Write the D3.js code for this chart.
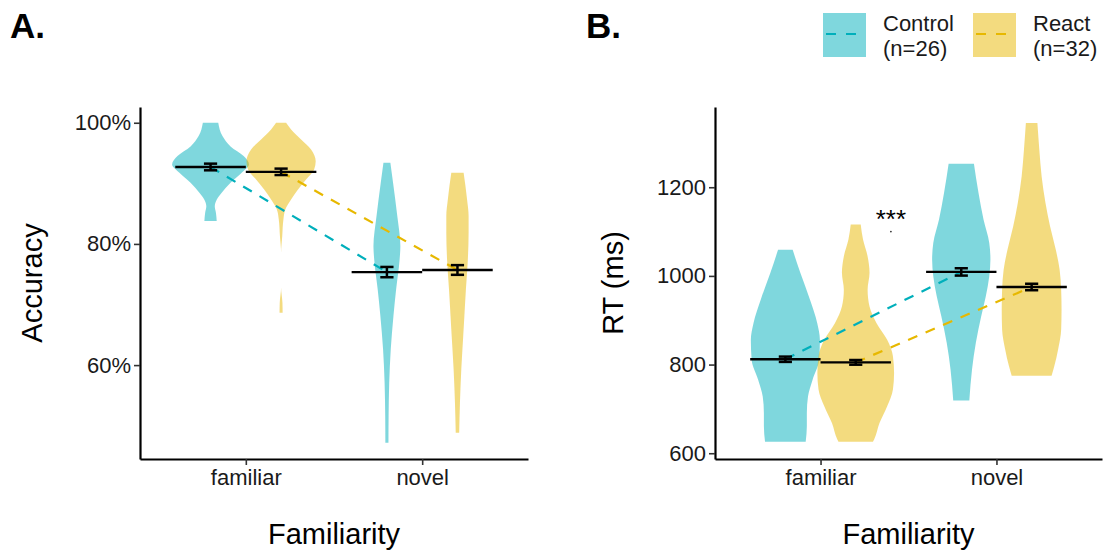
<!DOCTYPE html>
<html>
<head>
<meta charset="utf-8">
<script src="https://cdn.jsdelivr.net/npm/d3@7"></script>
<style>
body { margin: 0; background: #fff; }
text { font-family: "Liberation Sans", Arial, sans-serif; }
</style>
</head>
<body>
<svg id="chart" width="1107" height="553"></svg>
<script>
// groups and categories
var groups = ['Control', 'React']
var groupN = ['(n=26)', '(n=32)']
var familiarity = ['familiar', 'novel']
var lineColors = ['#00AFBB', '#E7B800']

// accuracy (%): means and standard errors, [familiar, novel]
var accMeanControl = [92.7, 75.35]
var accMeanReact = [91.9, 75.7]
var accSeControl = [0.55, 0.85]
var accSeReact = [0.53, 0.8]

// RT (ms): means and standard errors, [familiar, novel]
var rtMeanControl = [812, 1009]
var rtMeanReact = [805, 975]
var rtSeControl = [6, 8.3]
var rtSeReact = [5.3, 7.3]

// violin profiles: [value, relative density]
var accViolinControlFamiliar = [[100, 0.2], [97.8, 0.31], [96.1, 0.52], [94.5, 0.86], [93.1, 1.0], [91.75, 0.81],
    [90.1, 0.52], [88.45, 0.29], [87.3, 0.16], [86.2, 0.11], [85.15, 0.14], [83.8, 0.16]]
var accViolinReactFamiliar = [[100, 0.13], [98.9, 0.26], [97.25, 0.52], [95.6, 0.78], [93.65, 0.9], [92.3, 0.86],
    [90.65, 0.65], [89.0, 0.44], [87.35, 0.26], [85.7, 0.11], [84.05, 0.06], [81.3, 0.03], [78.5, 0.0],
    [72.8, 0.0], [70.3, 0.035], [68.65, 0.04]]
var accViolinControlNovel = [[93.4, 0.09], [90.1, 0.16], [84.6, 0.27], [79.6, 0.35], [77.4, 0.33], [72.5, 0.24],
    [68.1, 0.17], [62.6, 0.1], [57.1, 0.06], [51.6, 0.044], [47.2, 0.04]]
var accViolinReactNovel = [[91.75, 0.16], [87.35, 0.25], [84.6, 0.29], [81.85, 0.29], [77.4, 0.27], [72.5, 0.22],
    [68.1, 0.18], [64.8, 0.15], [59.3, 0.1], [53.8, 0.065], [48.85, 0.045]]

var rtViolinControlFamiliar = [[1059, 0.19], [1007, 0.39], [947, 0.64], [894, 0.83], [856, 0.9], [811, 0.88],
    [766, 0.71], [728, 0.59], [691, 0.56], [661, 0.56], [626, 0.53]]
var rtViolinReactFamiliar = [[1116, 0.13], [1082, 0.19], [1044, 0.31], [1007, 0.36], [969, 0.31], [931, 0.36],
    [894, 0.54], [856, 0.82], [819, 0.97], [781, 1.0], [744, 0.97], [706, 0.82], [668, 0.62], [631, 0.48], [626, 0.45]]
var rtViolinControlNovel = [[1253, 0.33], [1187, 0.45], [1127, 0.58], [1074, 0.73], [1037, 0.76], [999, 0.73],
    [954, 0.64], [909, 0.52], [849, 0.38], [789, 0.28], [719, 0.21]]
var rtViolinReactNovel = [[1345, 0.15], [1285, 0.2], [1225, 0.26], [1165, 0.36], [1112, 0.48], [1059, 0.63],
    [1014, 0.73], [969, 0.77], [924, 0.78], [879, 0.77], [834, 0.69], [796, 0.59], [775, 0.52]]

// axis ticks
var accTicks = [60, 80, 100]
var rtTicks = [600, 800, 1000, 1200]

// significance annotation on RT panel
var rtAnnot = {x: 1.4, y: 1100, label: '***'}

var svg = d3.select('#chart')

function draw_panel(cfg) {
    var g = svg.append('g')
    var x = d3.scaleLinear().domain([0.4, 2.6]).range([cfg.left, cfg.right])
    var y = d3.scaleLinear().domain(cfg.ydomain).range([cfg.bottom, cfg.top])
    var unit = x(1) - x(0)
    var w = d3.scaleLinear().domain([0, 1]).range([0, 0.218 * unit])
    var dodge = [-0.2, 0.2]

    // violins
    var area = d3.area()
        .curve(d3.curveMonotoneY)
        .y(function(d) { return y(d[0]) })
    for (var gi = 0; gi < groups.length; gi++) {
        for (var ci = 0; ci < familiarity.length; ci++) {
            var cx = x(ci + 1 + dodge[gi])
            area.x0(function(d) { return cx - w(d[1]) })
                .x1(function(d) { return cx + w(d[1]) })
            g.append('path')
                .attr('d', area(cfg.violins[gi][ci]))
                .attr('fill', lineColors[gi])
                .attr('fill-opacity', 0.5)
        }
    }

    // dashed lines between means
    for (var gi = 0; gi < groups.length; gi++) {
        var m = cfg.means[gi]
        g.append('line')
            .attr('x1', x(1 + dodge[gi])).attr('y1', y(m[0]))
            .attr('x2', x(2 + dodge[gi])).attr('y2', y(m[1]))
            .attr('stroke', lineColors[gi])
            .attr('stroke-width', 2.2)
            .attr('stroke-dasharray', '10,9')
    }

    // mean bars and error bars
    for (var gi = 0; gi < groups.length; gi++) {
        for (var ci = 0; ci < familiarity.length; ci++) {
            var p = ci + 1 + dodge[gi]
            var m = cfg.means[gi][ci], se = cfg.ses[gi][ci]
            g.append('line')
                .attr('x1', x(p - 0.2)).attr('x2', x(p + 0.2))
                .attr('y1', y(m)).attr('y2', y(m))
                .attr('stroke', '#000').attr('stroke-width', 2.4)
            var eb = g.append('g').attr('stroke', '#000').attr('stroke-width', 2.5)
            eb.append('line')
                .attr('x1', x(p)).attr('x2', x(p))
                .attr('y1', y(m - se)).attr('y2', y(m + se))
            eb.append('line')
                .attr('x1', x(p - 0.0375)).attr('x2', x(p + 0.0375))
                .attr('y1', y(m - se)).attr('y2', y(m - se))
            eb.append('line')
                .attr('x1', x(p - 0.0375)).attr('x2', x(p + 0.0375))
                .attr('y1', y(m + se)).attr('y2', y(m + se))
        }
    }

    // axes
    var yAxis = g.append('g')
        .attr('transform', 'translate(' + cfg.left + ',0)')
        .call(d3.axisLeft(y).tickValues(cfg.ticks).tickFormat(cfg.fmt).tickSize(6).tickSizeOuter(0).tickPadding(3))
    var xAxis = g.append('g')
        .attr('transform', 'translate(0,' + cfg.bottom + ')')
        .call(d3.axisBottom(x).tickValues([1, 2]).tickFormat(function(d) { return familiarity[d - 1] })
            .tickSize(6).tickSizeOuter(0).tickPadding(4))
    ;[yAxis, xAxis].forEach(function(a) {
        a.select('.domain').attr('stroke', '#000').attr('stroke-width', 2.2)
        a.selectAll('.tick line').attr('stroke', '#333').attr('stroke-width', 1.6)
        a.selectAll('.tick text')
            .attr('fill', '#1a1a1a')
            .style('font-family', '"Liberation Sans", Arial, sans-serif')
            .style('font-size', '22px')
    })

    // axis titles
    g.append('text')
        .attr('x', (cfg.left + cfg.right) / 2).attr('y', 544)
        .attr('text-anchor', 'middle')
        .style('font-size', '29px')
        .text('Familiarity')
    g.append('text')
        .attr('transform', 'translate(' + cfg.ytitleX + ',' + (cfg.top + cfg.bottom) / 2 + ') rotate(-90)')
        .attr('text-anchor', 'middle')
        .style('font-size', '29px')
        .text(cfg.ytitle)

    // panel tag
    g.append('text')
        .attr('x', cfg.tagX).attr('y', 38)
        .style('font-size', '35px').style('font-weight', 'bold')
        .text(cfg.tag)

    return {x: x, y: y, g: g}
}

draw_panel({
    left: 140, right: 528, top: 107, bottom: 459,
    ydomain: [44.5, 102.6], ticks: accTicks, fmt: function(d) { return d + '%' },
    violins: [[accViolinControlFamiliar, accViolinControlNovel], [accViolinReactFamiliar, accViolinReactNovel]],
    means: [accMeanControl, accMeanReact], ses: [accSeControl, accSeReact],
    ytitle: 'Accuracy', ytitleX: 42, tag: 'A.', tagX: 10
})

var rt = draw_panel({
    left: 715, right: 1102, top: 107, bottom: 459,
    ydomain: [587, 1381], ticks: rtTicks, fmt: d3.format('d'),
    violins: [[rtViolinControlFamiliar, rtViolinControlNovel], [rtViolinReactFamiliar, rtViolinReactNovel]],
    means: [rtMeanControl, rtMeanReact], ses: [rtSeControl, rtSeReact],
    ytitle: 'RT (ms)', ytitleX: 623, tag: 'B.', tagX: 586
})

rt.g.append('circle')
    .attr('cx', rt.x(rtAnnot.x)).attr('cy', rt.y(rtAnnot.y))
    .attr('r', 0.9).attr('fill', '#333')
rt.g.append('text')
    .attr('x', rt.x(rtAnnot.x)).attr('y', rt.y(rtAnnot.y) - 4)
    .attr('text-anchor', 'middle')
    .style('font-size', '26px')
    .text(rtAnnot.label)

// legend
var legend = svg.append('g').attr('transform', 'translate(823,13)')
var legendStep = 150
groups.forEach(function(name, i) {
    var item = legend.append('g').attr('transform', 'translate(' + i * legendStep + ',0)')
    item.append('rect')
        .attr('width', 43).attr('height', 44)
        .attr('fill', lineColors[i]).attr('fill-opacity', 0.5)
    item.append('line')
        .attr('x1', 3).attr('x2', 34).attr('y1', 21).attr('y2', 21)
        .attr('stroke', lineColors[i]).attr('stroke-width', 2.2)
        .attr('stroke-dasharray', '10,10')
    item.append('text')
        .attr('x', 60).attr('y', 18)
        .style('font-size', '22px').attr('fill', '#1a1a1a')
        .text(name)
    item.append('text')
        .attr('x', 60).attr('y', 43)
        .style('font-size', '22px').attr('fill', '#1a1a1a')
        .text(groupN[i])
})
</script>
</body>
</html>
